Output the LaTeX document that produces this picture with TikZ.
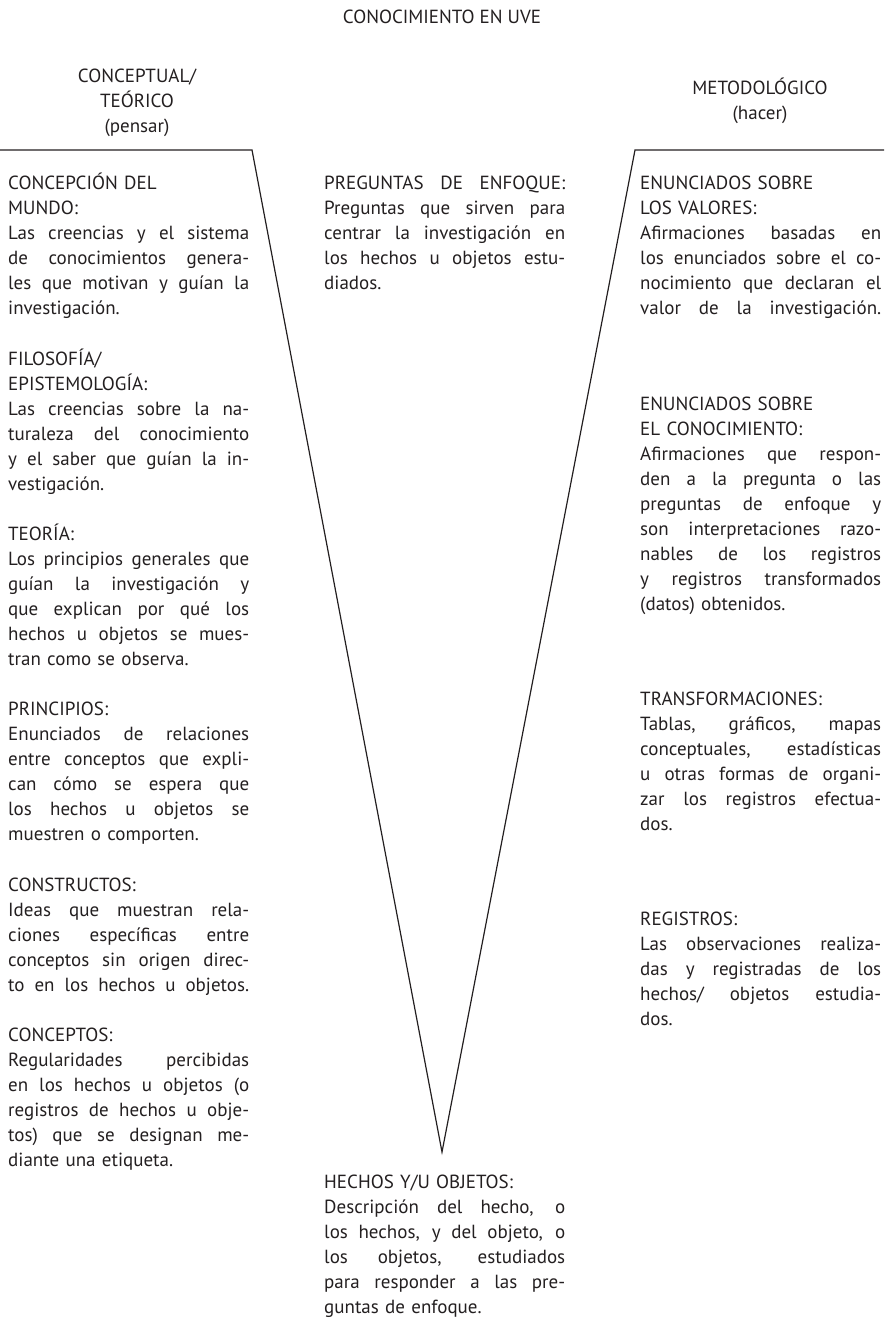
\documentclass[tikz,border=0pt]{standalone}
\usepackage{fontspec}
\setmainfont{PT Sans}
\usepackage{tikz}
\usetikzlibrary{positioning}

\definecolor{ink}{HTML}{231F20}
\newlength{\colw}
\setlength{\colw}{241pt}
\setlength{\parindent}{0pt}
\newcommand{\uvefont}{\fontsize{19}{25}\selectfont}
% justified line and plain line
\newcommand{\jline}[1]{\leavevmode\hbox to \colw{\spaceskip=\fontdimen2\font plus 3\fontdimen2\font minus .35\fontdimen2\font
	\xspaceskip=\spaceskip\strut #1}}
\newcommand{\pline}[1]{\strut #1}

\begin{document}
\begin{tikzpicture}[x=1pt,y=-1pt,
	txt/.style={anchor=north west,inner sep=0pt,text width=\colw,align=left,font=\uvefont,text=ink},
	head/.style={anchor=north,inner sep=0pt,align=center,font=\uvefont,text=ink},
	uve/.style={draw=ink,line width=1.2pt}]
\useasboundingbox (0,0) rectangle (884,1322);

% titles
\node[anchor=base,inner sep=0pt,font=\uvefont,text=ink] (title) at (442,24) {CONOCIMIENTO EN UVE};
\node[head] (teorico) at (137,64.5) {\pline{CONCEPTUAL/}\\\pline{TEÓRICO}\\\pline{(pensar)}};
\node[head] (metodo) at (760,77) {\pline{METODOLÓGICO}\\\pline{(hacer)}};

% the V
\coordinate (tl) at (0,150);
\coordinate (lc) at (252,150);
\coordinate (apex) at (442,1152);
\coordinate (rc) at (635,150);
\coordinate (tr) at (884,150);
\draw[uve] (tl) -- (lc) -- (apex) -- (rc) -- (tr);

% left side
\node[txt] (mundo) at (8,172) {\pline{CONCEPCIÓN DEL}\\\pline{MUNDO:}\\
	\jline{Las creencias y el sistema}\\\jline{de conocimientos genera-}\\
	\jline{les que motivan y guían la}\\\pline{investigación.}};
\node[txt,below=25pt of mundo] (filo) {\pline{FILOSOFÍA/}\\\pline{EPISTEMOLOGÍA:}\\
	\jline{Las creencias sobre la na-}\\\jline{turaleza del conocimiento}\\
	\jline{y el saber que guían la in-}\\\pline{vestigación.}};
\node[txt,below=25pt of filo] (teoria) {\pline{TEORÍA:}\\
	\jline{Los principios generales que}\\\jline{guían la investigación y}\\
	\jline{que explican por qué los}\\\jline{hechos u objetos se mues-}\\
	\pline{tran como se observa.}};
\node[txt,below=25pt of teoria] (princ) {\pline{PRINCIPIOS:}\\
	\jline{Enunciados de relaciones}\\\jline{entre conceptos que expli-}\\
	\jline{can cómo se espera que}\\\jline{los hechos u objetos se}\\
	\pline{muestren o comporten.}};
\node[txt,below=25pt of princ] (constr) {\pline{CONSTRUCTOS:}\\
	\jline{Ideas que muestran rela-}\\\jline{ciones específicas entre}\\
	\jline{conceptos sin origen direc-}\\\jline{to en los hechos u objetos.}};
\node[txt,below=25pt of constr] (conc) {\pline{CONCEPTOS:}\\
	\jline{Regularidades percibidas}\\\jline{en los hechos u objetos (o}\\
	\jline{registros de hechos u obje-}\\\jline{tos) que se designan me-}\\
	\pline{diante una etiqueta.}};

% middle
\node[txt] (preg) at (324,172) {\jline{PREGUNTAS DE ENFOQUE:}\\
	\jline{Preguntas que sirven para}\\\jline{centrar la investigación en}\\
	\jline{los hechos u objetos estu-}\\\pline{diados.}};
\node[txt] (hechos) at (324,1171) {\pline{HECHOS Y/U OBJETOS:}\\
	\jline{Descripción del hecho, o}\\\jline{los hechos, y del objeto, o}\\
	\jline{los objetos, estudiados}\\\jline{para responder a las pre-}\\
	\pline{guntas de enfoque.}};

% right side
\node[txt] (valores) at (640,172) {\pline{ENUNCIADOS SOBRE}\\\pline{LOS VALORES:}\\
	\jline{Afirmaciones basadas en}\\\jline{los enunciados sobre el co-}\\
	\jline{nocimiento que declaran el}\\\jline{valor de la investigación.}};
\node[txt,below=70pt of valores] (conoc) {\pline{ENUNCIADOS SOBRE}\\\pline{EL CONOCIMIENTO:}\\
	\jline{Afirmaciones que respon-}\\\jline{den a la pregunta o las}\\
	\jline{preguntas de enfoque y}\\\jline{son interpretaciones razo-}\\
	\jline{nables de los registros}\\\jline{y registros transformados}\\
	\pline{(datos) obtenidos.}};
\node[txt,below=70pt of conoc] (transf) {\pline{TRANSFORMACIONES:}\\
	\jline{Tablas, gráficos, mapas}\\\jline{conceptuales, estadísticas}\\
	\jline{u otras formas de organi-}\\\jline{zar los registros efectua-}\\
	\pline{dos.}};
\node[txt,below=70pt of transf] (regis) {\pline{REGISTROS:}\\
	\jline{Las observaciones realiza-}\\\jline{das y registradas de los}\\
	\jline{hechos/ objetos estudia-}\\\pline{dos.}};

\end{tikzpicture}
\end{document}
